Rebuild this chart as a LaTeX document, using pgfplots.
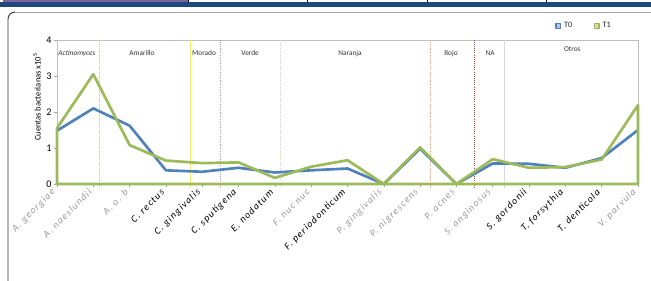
\documentclass[border=0pt]{standalone}
\usepackage{pgfplots}
\pgfplotsset{compat=1.18}
\usepackage{fontspec}
\setmainfont{Carlito}
\newfontfamily\spaced[LetterSpace=12]{Carlito}
\definecolor{ctzero}{HTML}{4F81BD}
\definecolor{ctone}{HTML}{9BBB59}
\definecolor{hdrblue}{HTML}{1F497D}
\definecolor{hdrpurple}{HTML}{7F64A2}
\definecolor{lblgray}{HTML}{9A9A9A}
\definecolor{sepgreen}{HTML}{B5CF8A}
\definecolor{sepyellow}{HTML}{FFFF00}
\definecolor{seppurple}{HTML}{A896C8}
\definecolor{seplgreen}{HTML}{CFE0A8}
\definecolor{seporange}{HTML}{F79646}
\definecolor{sepred}{HTML}{D03030}
\definecolor{sepgray}{HTML}{D9D9D9}
\newcommand{\gl}[1]{\textcolor{lblgray}{#1}}
\tikzset{grplbl/.style={font=\fontsize{5.5}{6.5}\selectfont, text=black!80}}
\begin{document}
\begin{tikzpicture}
\begin{scope}[x=0.75pt,y=0.75pt]
\path[use as bounding box] (0,0) rectangle (651,281);
\fill[hdrblue] (0,274) rectangle (651,278.5);
\fill[hdrpurple] (3,278.5) rectangle (188,281);
\foreach \x in {188,307,427,546} \draw[black, line width=0.6pt] (\x,278.5) -- (\x,281);
\draw[black!80, line width=0.7pt] (8,0) -- (8,262) arc[start angle=180, end angle=90, radius=7];
\draw[gray!70, line width=0.7pt] (15,269) -- (651,269);
\end{scope}
\begin{axis}[
  at={(42.75pt,72.75pt)}, anchor=south west,
  scale only axis, width=435.75pt, height=108pt,
  xmin=0, xmax=16, ymin=0, ymax=4,
  xtick={0,...,16},
  xticklabels={\gl{A. georgiae},\gl{A. naeslundii},\gl{A. o. b},C. rectus,C. gingivalis,C. sputigena,E. nodatum,\gl{F. nuc nuc},F. periodonticum,\gl{P. gingivalis},\gl{P. nigrescens},\gl{P. acnes},\gl{S. anginosus},S. gordonii,T. forsythia,T. denticola,\gl{V. parvula}},
  ytick={0,1,2,3,4},
  tick align=outside, xtick pos=bottom, ytick pos=left,
  major tick length=2.5pt,
  tick style={gray!70, thin},
  axis line style={gray!50, line width=0.6pt},
  clip=false,
  /pgf/number format/assume math mode=true,
  y tick label style={font=\fontsize{7.6}{9}\selectfont, inner sep=1.5pt},
  x tick label style={font=\spaced\fontsize{7.4}{9}\selectfont\itshape, rotate=45, anchor=east},
  ylabel={Cuentas bacterianas x10\textsuperscript{5}},
  ylabel style={font=\fontsize{6.4}{7}\selectfont, at={(axis description cs:-0.0344,0.604)}, anchor=center},
  legend style={at={(axis description cs:0.85,1.097)}, anchor=west, draw=none, fill=none, legend columns=2, font=\fontsize{6.2}{7}\selectfont, text=black!85, /tikz/every even column/.append style={column sep=14pt}},
  legend cell align=left,
]
\draw[sepgreen, densely dotted, line width=0.6pt] (axis cs:1.18,-0.1) -- (axis cs:1.18,4);
\draw[sepyellow, line width=0.6pt] (axis cs:3.66,-0.1) -- (axis cs:3.66,4);
\draw[seppurple, densely dotted, line width=0.6pt] (axis cs:4.49,-0.1) -- (axis cs:4.49,4);
\draw[seplgreen, densely dotted, line width=0.6pt] (axis cs:6.14,-0.1) -- (axis cs:6.14,4);
\draw[seporange, densely dotted, line width=0.6pt] (axis cs:10.28,-0.1) -- (axis cs:10.28,4);
\draw[sepred, densely dotted, line width=0.6pt] (axis cs:11.5,-0.1) -- (axis cs:11.5,4);
\draw[sepgray, line width=0.6pt] (axis cs:12.32,-0.1) -- (axis cs:12.32,4);

\addplot[ctzero, line width=2pt, line join=round,
  legend image code/.code={\draw[ctzero, line width=1.1pt, fill=ctzero!45] (0pt,-1.8pt) rectangle (3.6pt,1.8pt);}]
  coordinates {(0,1.48) (1,2.10) (2,1.62) (3,0.38) (4,0.34) (5,0.45) (6,0.32) (7,0.38) (8,0.43) (9,0) (10,0.98) (11,0) (12,0.57) (13,0.56) (14,0.45) (15,0.72) (16,1.50)};
\addlegendentry{T0}
\addplot[ctone, line width=2pt, line join=round,
  legend image code/.code={\draw[ctone, line width=1.1pt, fill=ctone!45] (0pt,-1.8pt) rectangle (3.6pt,1.8pt);}]
  coordinates {(0,1.55) (1,3.05) (2,1.08) (3,0.65) (4,0.58) (5,0.60) (6,0.17) (7,0.48) (8,0.66) (9,0) (10,1.02) (11,0) (12,0.69) (13,0.45) (14,0.47) (15,0.68) (16,2.19)} \closedcycle;
\addlegendentry{T1}

\node[grplbl] at (axis cs:0.55,3.63) {\textit{Actinomyces}};
\node[grplbl] at (axis cs:2.34,3.63) {Amarillo};
\node[grplbl] at (axis cs:4.05,3.63) {Morado};
\node[grplbl] at (axis cs:5.32,3.65) {Verde};
\node[grplbl] at (axis cs:8.07,3.63) {Naranja};
\node[grplbl] at (axis cs:10.85,3.63) {Rojo};
\node[grplbl] at (axis cs:11.93,3.63) {NA};
\node[grplbl] at (axis cs:14.19,3.74) {Otros};
\end{axis}
\end{tikzpicture}
\end{document}
